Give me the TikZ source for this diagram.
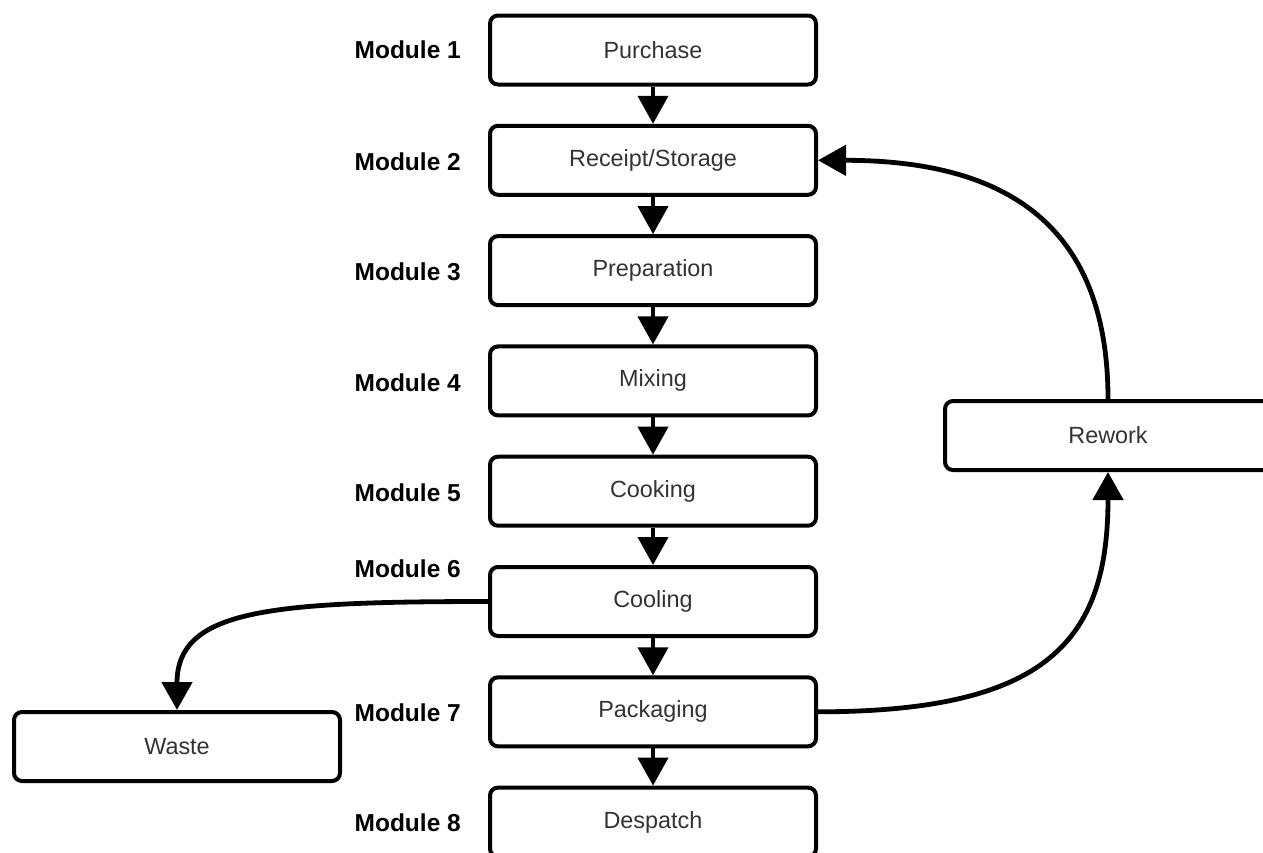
\documentclass[tikz,border=0pt]{standalone}
\usepackage{fontspec}
\setmainfont{Liberation Sans}
\usetikzlibrary{arrows.meta}
\definecolor{boxtext}{HTML}{333333}
\tikzset{
  x=1pt, y=-1pt,
  stage/.style={draw=black, line width=4pt, rounded corners=8pt, fill=white,
    minimum width=326pt, minimum height=69pt, inner sep=0pt,
    text=boxtext, font=\fontsize{23.4}{26}\selectfont},
  modlabel/.style={anchor=east, inner sep=0pt, text=black,
    font=\fontsize{24.5}{28}\selectfont\bfseries},
  flow/.style={line width=4pt, -{Triangle[length=28pt,width=30pt]}},
  bend flow/.style={flow, line width=4.8pt},
}
\begin{document}
\begin{tikzpicture}
\useasboundingbox (0,0) rectangle (1263,852);

% main process column
\node[stage] (purchase) at (653,50)    {Purchase};
\node[stage] (receipt)  at (653,160.3) {Receipt/Storage};
\node[stage] (prep)     at (653,270.6) {Preparation};
\node[stage] (mixing)   at (653,380.9) {Mixing};
\node[stage] (cooking)  at (653,491.2) {Cooking};
\node[stage] (cooling)  at (653,601.5) {Cooling};
\node[stage] (packing)  at (653,711.8) {Packaging};
\node[stage] (despatch) at (653,822.1) {Despatch};

% side branches
\node[stage] (rework) at (1108,435.5) {Rework};
\node[stage] (waste)  at (177,746.5)  {Waste};

% module labels
\node[modlabel] (m1) at (461,50)  {Module 1};
\node[modlabel] (m2) at (461,162) {Module 2};
\node[modlabel] (m3) at (461,272) {Module 3};
\node[modlabel] (m4) at (461,383) {Module 4};
\node[modlabel] (m5) at (461,493) {Module 5};
\node[modlabel] (m6) at (461,569) {Module 6};
\node[modlabel] (m7) at (461,713) {Module 7};
\node[modlabel] (m8) at (461,823) {Module 8};

% straight flow
\draw[flow] (purchase) -- (receipt);
\draw[flow] (receipt) -- (prep);
\draw[flow] (prep) -- (mixing);
\draw[flow] (mixing) -- (cooking);
\draw[flow] (cooking) -- (cooling);
\draw[flow] (cooling) -- (packing);
\draw[flow] (packing) -- (despatch);

% rework loop and waste branch
\draw[bend flow] (packing.east) .. controls +(230,0) and +(0,168) .. (rework.south);
\draw[bend flow] (rework.north) .. controls +(0,-179) and +(182,0) .. (receipt.east);
\draw[bend flow] (cooling.west) .. controls +(-220,0) and +(0,-100) .. (waste.north);
\end{tikzpicture}
\end{document}
